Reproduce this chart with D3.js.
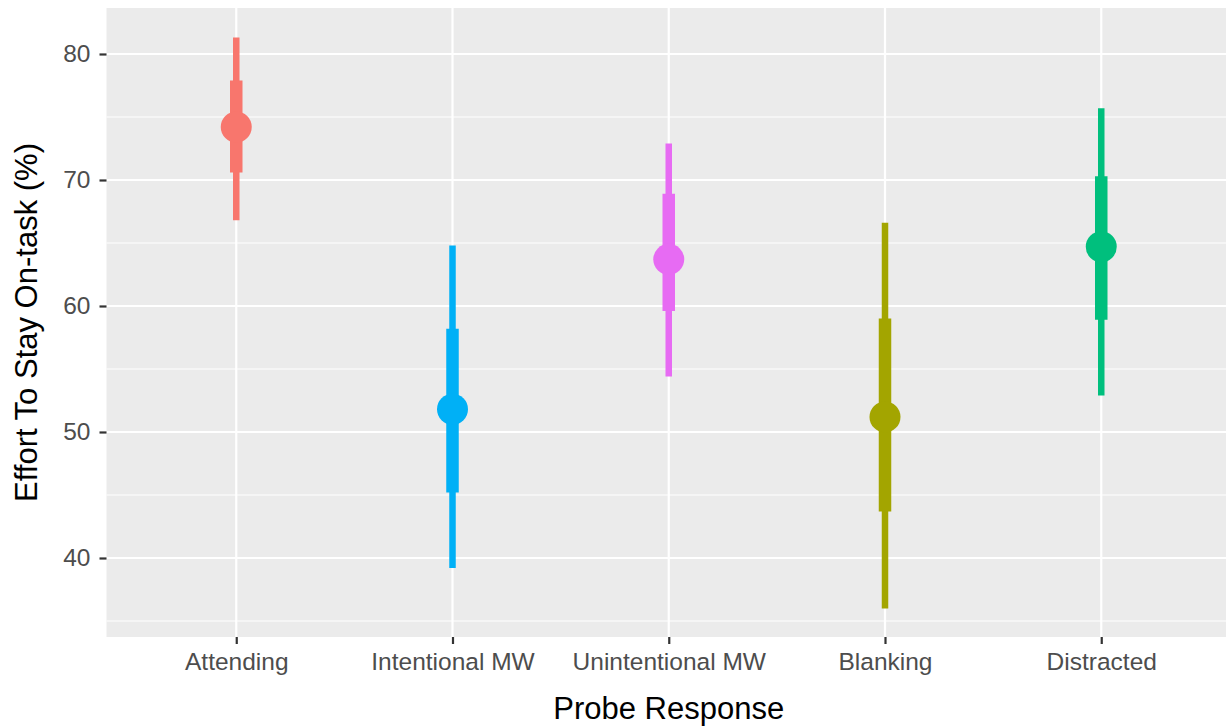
<!DOCTYPE html>
<html>
<head>
<meta charset="utf-8">
<script src="https://cdn.jsdelivr.net/npm/d3@7"></script>
<style>
  body { margin: 0; background: #fff; overflow: hidden; }
  text { font-family: "Liberation Sans", Arial, Helvetica, sans-serif; }
</style>
</head>
<body>
<div id="chart"></div>
<script>
var svgWidth = 1226;
var svgHeight = 727;

// the panel runs a little past the right edge of the picture
var margin = { top: 8, right: -5, bottom: 90, left: 106.5 };
var width = svgWidth - margin.left - margin.right;
var height = svgHeight - margin.top - margin.bottom;

// data
var categories = ["Attending", "Intentional MW", "Unintentional MW", "Blanking", "Distracted"];
var colors = ["#F8766D", "#00B0F6", "#E76BF3", "#A3A500", "#00BF7D"];
var means = [74.2, 51.8, 63.7, 51.2, 64.7];
var innerLow = [70.6, 45.2, 59.6, 43.7, 58.9];
var innerHigh = [77.9, 58.2, 68.9, 59.0, 70.3];
var outerLow = [66.8, 39.2, 54.4, 36.0, 52.9];
var outerHigh = [81.3, 64.8, 72.9, 66.6, 75.7];
var yTicks = [40, 50, 60, 70, 80];
var yMinor = [35, 45, 55, 65, 75];

var data = categories.map(function(c, i) {
  return { cat: c, color: colors[i], mean: means[i],
    lo: innerLow[i], hi: innerHigh[i], lo2: outerLow[i], hi2: outerHigh[i] };
});

var svg = d3.select("#chart")
  .append("svg")
  .attr("width", svgWidth)
  .attr("height", svgHeight);

var chartGroup = svg.append("g")
  .attr("transform", `translate(${margin.left}, ${margin.top})`);

var xScale = d3.scalePoint()
  .domain(categories)
  .range([0, width])
  .padding(0.6);

var yScale = d3.scaleLinear()
  .domain([33.73, 83.65])
  .range([height, 0]);

// panel background
chartGroup.append("rect")
  .attr("width", width)
  .attr("height", height)
  .attr("fill", "#EBEBEB");

// minor grid
chartGroup.selectAll(".minor")
  .data(yMinor)
  .enter()
  .append("line")
  .attr("x1", 0).attr("x2", width)
  .attr("y1", d => yScale(d)).attr("y2", d => yScale(d))
  .attr("stroke", "#fff")
  .attr("stroke-width", 1.1);

// major grid
chartGroup.selectAll(".majorY")
  .data(yTicks)
  .enter()
  .append("line")
  .attr("x1", 0).attr("x2", width)
  .attr("y1", d => yScale(d)).attr("y2", d => yScale(d))
  .attr("stroke", "#fff")
  .attr("stroke-width", 2.2);

chartGroup.selectAll(".majorX")
  .data(categories)
  .enter()
  .append("line")
  .attr("x1", d => xScale(d)).attr("x2", d => xScale(d))
  .attr("y1", 0).attr("y2", height)
  .attr("stroke", "#fff")
  .attr("stroke-width", 2.2);

// axes
var bottomAxis = d3.axisBottom(xScale).tickSizeInner(7).tickSizeOuter(0).tickPadding(9);
var leftAxis = d3.axisLeft(yScale).tickValues(yTicks).tickSizeInner(7).tickSizeOuter(0).tickPadding(9);

var xAxis = chartGroup.append("g")
  .attr("transform", `translate(0, ${height})`)
  .call(bottomAxis);

var yAxis = chartGroup.append("g")
  .call(leftAxis);

[xAxis, yAxis].forEach(function(ax) {
  ax.select(".domain").remove();
  ax.selectAll(".tick line").attr("stroke", "#333").attr("stroke-width", 2.2);
  ax.selectAll(".tick text")
    .attr("fill", "#4D4D4D")
    .style("font-size", "24.5px")
    .style("font-family", "'Liberation Sans', Arial, sans-serif");
});

// outer intervals
chartGroup.selectAll(".outer")
  .data(data)
  .enter()
  .append("line")
  .attr("x1", d => xScale(d.cat)).attr("x2", d => xScale(d.cat))
  .attr("y1", d => yScale(d.lo2)).attr("y2", d => yScale(d.hi2))
  .attr("stroke", d => d.color)
  .attr("stroke-width", 6.5);

// inner intervals
chartGroup.selectAll(".inner")
  .data(data)
  .enter()
  .append("line")
  .attr("x1", d => xScale(d.cat)).attr("x2", d => xScale(d.cat))
  .attr("y1", d => yScale(d.lo)).attr("y2", d => yScale(d.hi))
  .attr("stroke", d => d.color)
  .attr("stroke-width", 12.5);

// point estimates
chartGroup.selectAll("circle")
  .data(data)
  .enter()
  .append("circle")
  .attr("cx", d => xScale(d.cat))
  .attr("cy", d => yScale(d.mean))
  .attr("r", 15.5)
  .attr("fill", d => d.color);

// axis titles
svg.append("text")
  .attr("x", margin.left + width / 2)
  .attr("y", 719)
  .attr("text-anchor", "middle")
  .attr("fill", "#000")
  .style("font-size", "31px")
  .text("Probe Response");

svg.append("text")
  .attr("transform", `translate(37, ${margin.top + height / 2}) rotate(-90)`)
  .attr("text-anchor", "middle")
  .attr("fill", "#000")
  .style("font-size", "31px")
  .text("Effort To Stay On-task (%)");
</script>
</body>
</html>
